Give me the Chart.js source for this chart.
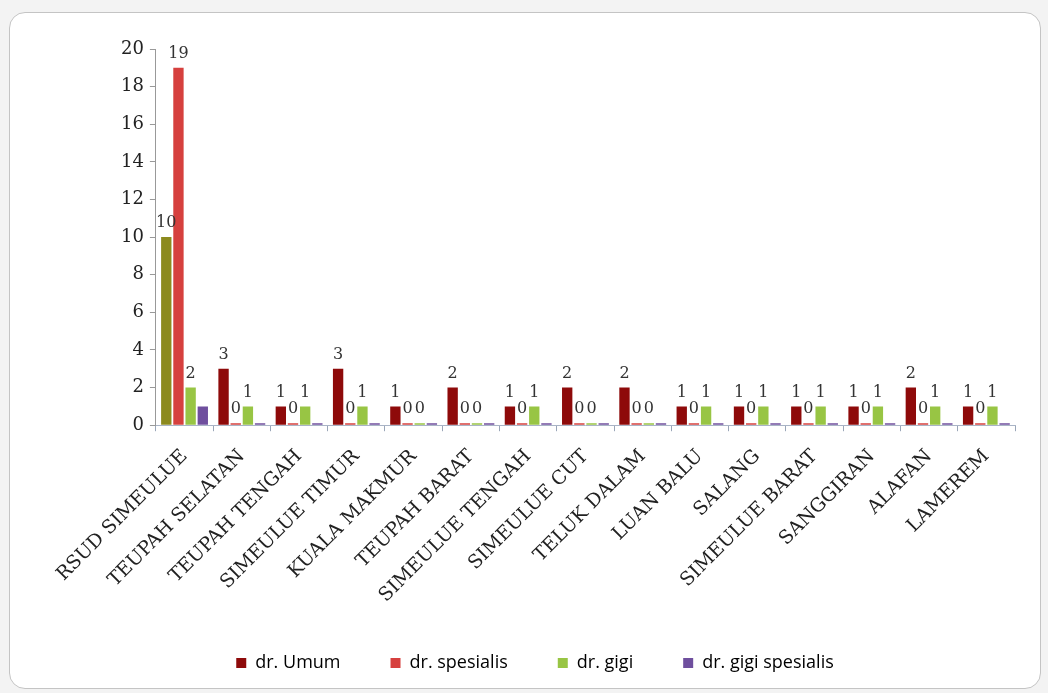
<!DOCTYPE html>
<html>
<head>
    <title>Dokter per Puskesmas</title>
    <meta charset="utf-8" />
    <script src="https://cdn.jsdelivr.net/npm/chart.js"></script>
    <style>
        body { margin: 0; background-color: #f3f3f3; font-family: Arial, sans-serif; }
        .panel { position: absolute; left: 9px; top: 12px; width: 1030px; height: 675px; background: #fff; border: 1px solid #c4c4c4; border-radius: 16px; }
        #chartBox { position: absolute; left: 0; top: 0; width: 1030px; height: 675px; }
    </style>
</head>
<body>
    <div class="panel">
        <div id="chartBox"><canvas id="myChart"></canvas></div>
    </div>
    <script>
        var categories = ['RSUD SIMEULUE', 'TEUPAH SELATAN', 'TEUPAH TENGAH', 'SIMEULUE TIMUR', 'KUALA MAKMUR',
            'TEUPAH BARAT', 'SIMEULUE TENGAH', 'SIMEULUE CUT', 'TELUK DALAM', 'LUAN BALU',
            'SALANG', 'SIMEULUE BARAT', 'SANGGIRAN', 'ALAFAN', 'LAMEREM'];
        var drUmum       = [10, 3, 1, 3, 1, 2, 1, 2, 2, 1, 1, 1, 1, 2, 1];
        var drSpesialis  = [19, 0, 0, 0, 0, 0, 0, 0, 0, 0, 0, 0, 0, 0, 0];
        var drGigi       = [2, 1, 1, 1, 0, 0, 1, 0, 0, 1, 1, 1, 1, 1, 1];
        var drGigiSpes   = [1, 0, 0, 0, 0, 0, 0, 0, 0, 0, 0, 0, 0, 0, 0];
        var yTicks = [0, 2, 4, 6, 8, 10, 12, 14, 16, 18, 20];

        // first bar of dr. Umum is drawn olive in the original
        var umumColors = drUmum.map(function (v, i) { return i === 0 ? '#8c8a1e' : '#8e0a0a'; });

        var serif = '"DejaVu Serif", "Liberation Serif", serif';

        // simple value labels above bars (no datalabels plugin offline)
        var valueLabels = {
            id: 'valueLabels',
            afterDatasetsDraw: function (chart) {
                var ctx = chart.ctx;
                ctx.save();
                ctx.font = '16px ' + serif;
                ctx.fillStyle = '#333';
                ctx.textAlign = 'center';
                ctx.textBaseline = 'bottom';
                chart.data.datasets.forEach(function (ds, di) {
                    if (ds.noLabel) return;
                    chart.getDatasetMeta(di).data.forEach(function (bar, i) {
                        ctx.fillText(String(ds.data[i]), bar.x, bar.y - 6);
                    });
                });
                ctx.restore();
            }
        };

        var ctx = document.getElementById('myChart').getContext('2d');
        var myChart = new Chart(ctx, {
            type: 'bar',
            data: {
                labels: categories,
                datasets: [
                    { label: 'dr. Umum', data: drUmum, backgroundColor: umumColors },
                    { label: 'dr. spesialis', data: drSpesialis, backgroundColor: '#d6403e' },
                    { label: 'dr. gigi', data: drGigi, backgroundColor: '#98c544' },
                    { label: 'dr. gigi spesialis', data: drGigiSpes, backgroundColor: '#6f4f9e', noLabel: true }
                ]
            },
            options: {
                responsive: true,
                maintainAspectRatio: false,
                animation: false,
                minBarLength: 2,
                categoryPercentage: 0.85,
                barPercentage: 0.85,
                layout: { padding: { left: 45, right: 25, top: 36, bottom: 6 } },
                plugins: {
                    tooltip: { enabled: false },
                    legend: {
                        position: 'bottom',
                        labels: {
                            boxWidth: 10, boxHeight: 10, padding: 50, color: '#222',
                            font: { family: '"Open Sans", Lato, sans-serif', size: 18 },
                            generateLabels: function (chart) {
                                var cols = ['#8e0a0a', '#d6403e', '#98c544', '#6f4f9e'];
                                return chart.data.datasets.map(function (ds, i) {
                                    return { text: ds.label, fillStyle: cols[i], strokeStyle: cols[i], lineWidth: 0, datasetIndex: i };
                                });
                            }
                        }
                    }
                },
                scales: {
                    x: {
                        afterFit: function (axis) { axis.height -= 17; },
                        grid: { display: true, drawOnChartArea: false, offset: true, tickLength: 6, color: '#9aa6b8' },
                        border: { color: '#a9b4c6' },
                        ticks: {
                            maxRotation: 45, minRotation: 45, color: '#222', padding: 14,
                            font: { family: serif, size: 19 }
                        }
                    },
                    y: {
                        min: 0, max: 20,
                        afterFit: function (axis) { axis.width += 60; },
                        afterBuildTicks: function (axis) { axis.ticks = yTicks.map(function (v) { return { value: v }; }); },
                        grid: { display: true, drawOnChartArea: false, tickLength: 6, color: '#999' },
                        border: { color: '#999' },
                        ticks: {
                            color: '#222', padding: 6,
                            font: { family: serif, size: 18 }
                        }
                    }
                }
            },
            plugins: [valueLabels]
        });
    </script>
</body>
</html>
